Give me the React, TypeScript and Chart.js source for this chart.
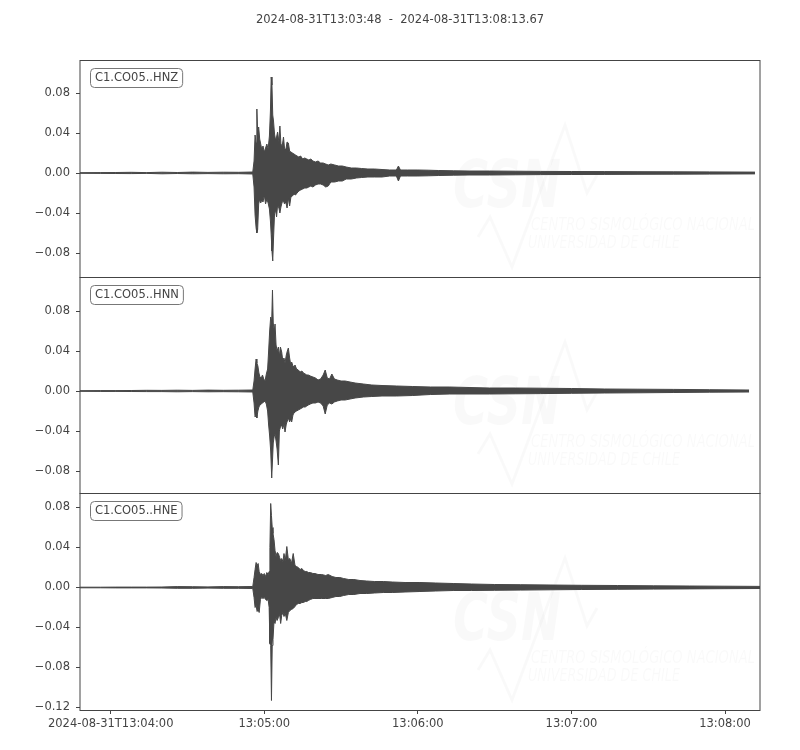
import { useEffect, useRef } from 'react';
import { Chart, registerables, type ChartConfiguration, type Plugin } from 'chart.js';

Chart.register(...registerables);

const TITLE = '2024-08-31T13:03:48  -  2024-08-31T13:08:13.67';
const DURATION = 265.67; // seconds after 13:03:48

const xTickSeconds = [12, 72, 132, 192, 252];
const xTickLabels = ['2024-08-31T13:04:00', '13:05:00', '13:06:00', '13:07:00', '13:08:00'];
const yTicks = [-0.08, -0.04, 0, 0.04, 0.08];
const yTicksHne = [-0.12, -0.08, -0.04, 0, 0.04, 0.08];
const channelLabels = ['C1.CO05..HNZ', 'C1.CO05..HNN', 'C1.CO05..HNE'];

// envelopes (max / min of the trace), seconds after 13:03:48
const hnzTime = [
  0, 8, 14, 20, 26, 32, 38, 44, 50, 56,
  62, 67.5, 68.0, 68.4, 68.8, 69.1, 69.4, 69.8, 70.2, 70.6,
  71.0, 71.5, 72.0, 72.5, 73.0, 73.5, 74.0, 74.4, 74.7, 75.0,
  75.3, 75.6, 76.0, 76.4, 76.8, 77.2, 77.7, 78.1, 78.5, 79.0,
  79.5, 79.9, 80.4, 80.9, 81.4, 81.9, 82.4, 83.0, 83.6, 84.2,
  84.8, 85.5, 86.2, 87.0, 87.8, 88.6, 89.4, 90.2, 91.0, 92.0,
  93.0, 94.0, 95.0, 96.0, 97.0, 98.0, 99.5, 101, 102.5, 104,
  106, 108, 110, 112.5, 115, 118, 121, 123.6, 124.4, 125.2,
  128, 132, 136, 140, 146, 152, 160, 170, 180, 192,
  205, 218, 232, 246, 263.7,
];
const hnzHigh = [
  0.0003, 0.0004, 0.0005, 0.0007, 0.0004, 0.0008, 0.0005, 0.0009, 0.0006, 0.0008,
  0.0007, 0.0010, 0.012, 0.038, 0.030, 0.064, 0.041, 0.046, 0.034, 0.029,
  0.024, 0.027, 0.021, 0.025, 0.029, 0.024, 0.037, 0.062, 0.096, 0.088,
  0.058, 0.052, 0.039, 0.033, 0.036, 0.041, 0.031, 0.047, 0.029, 0.027,
  0.036, 0.025, 0.023, 0.031, 0.030, 0.022, 0.021, 0.020, 0.019, 0.018,
  0.017, 0.016, 0.017, 0.014, 0.015, 0.014, 0.013, 0.014, 0.012, 0.011,
  0.012, 0.010, 0.010, 0.009, 0.008, 0.009, 0.008, 0.007, 0.007, 0.006,
  0.005, 0.005, 0.0045, 0.004, 0.004, 0.0035, 0.003, 0.003, 0.007, 0.003,
  0.003, 0.003, 0.0028, 0.0025, 0.0022, 0.002, 0.002, 0.0018, 0.0016, 0.0015,
  0.0014, 0.0013, 0.0012, 0.0011, 0.0009,
];
const hnzLow = [
  -0.0003, -0.0004, -0.0005, -0.0006, -0.0004, -0.0008, -0.0005, -0.0008, -0.0006, -0.0008,
  -0.0007, -0.0010, -0.014, -0.042, -0.055, -0.060, -0.057, -0.031, -0.026, -0.030,
  -0.027, -0.029, -0.022, -0.031, -0.026, -0.030, -0.036, -0.048, -0.062, -0.078,
  -0.088, -0.066, -0.041, -0.037, -0.044, -0.032, -0.035, -0.040, -0.034, -0.029,
  -0.028, -0.031, -0.029, -0.035, -0.025, -0.033, -0.024, -0.023, -0.021, -0.022,
  -0.020, -0.018, -0.017, -0.016, -0.015, -0.015, -0.014, -0.013, -0.014, -0.012,
  -0.011, -0.011, -0.012, -0.014, -0.013, -0.009, -0.009, -0.008, -0.008, -0.006,
  -0.006, -0.005, -0.0045, -0.004, -0.004, -0.004, -0.003, -0.003, -0.008, -0.003,
  -0.003, -0.003, -0.0028, -0.0025, -0.0022, -0.002, -0.002, -0.0018, -0.0016, -0.0015,
  -0.0014, -0.0013, -0.0012, -0.0011, -0.0009,
];

const hnnTime = [
  0, 8, 14, 20, 26, 32, 38, 44, 50, 56,
  62, 67.5, 68.0, 68.4, 68.8, 69.1, 69.5, 69.9, 70.3, 70.8,
  71.3, 71.8, 72.3, 72.8, 73.3, 73.7, 74.1, 74.5, 74.9, 75.2,
  75.5, 75.9, 76.2, 76.6, 77.0, 77.5, 77.9, 78.3, 78.8, 79.2,
  79.7, 80.1, 80.6, 81.0, 81.4, 81.9, 82.3, 82.7, 83.2, 83.6,
  84.0, 84.6, 85.3, 86.0, 86.7, 87.3, 88.0, 88.6, 89.2, 90.0,
  91.0, 92.0, 93.0, 94.0, 95.0, 95.8, 96.6, 97.5, 98.4, 99.4,
  100.5, 102, 103.6, 105.5, 107.5, 110.7, 114, 118, 123.7, 130,
  137, 144.5, 152, 160, 170, 180, 192, 205, 218, 232,
  246, 261.4,
];
const hnnHigh = [
  0.0003, 0.0004, 0.0004, 0.0005, 0.0007, 0.0006, 0.0008, 0.0006, 0.0009, 0.0007,
  0.0008, 0.0010, 0.010, 0.022, 0.032, 0.028, 0.025, 0.018, 0.014, 0.013,
  0.016, 0.012, 0.010, 0.017, 0.022, 0.040, 0.060, 0.074, 0.070, 0.101,
  0.068, 0.060, 0.067, 0.046, 0.040, 0.044, 0.035, 0.044, 0.039, 0.031,
  0.033, 0.028, 0.036, 0.040, 0.043, 0.033, 0.027, 0.029, 0.025, 0.024,
  0.026, 0.022, 0.021, 0.019, 0.020, 0.018, 0.017, 0.016, 0.016, 0.015,
  0.014, 0.013, 0.011, 0.012, 0.016, 0.021, 0.013, 0.012, 0.017, 0.012,
  0.011, 0.010, 0.010, 0.009, 0.008, 0.007, 0.006, 0.0055, 0.005, 0.0045,
  0.004, 0.004, 0.0035, 0.003, 0.003, 0.0028, 0.0025, 0.002, 0.0018, 0.0016,
  0.0013, 0.0010,
];
const hnnLow = [
  -0.0003, -0.0004, -0.0004, -0.0005, -0.0006, -0.0006, -0.0008, -0.0006, -0.0008, -0.0007,
  -0.0008, -0.0010, -0.012, -0.026, -0.024, -0.027, -0.020, -0.016, -0.014, -0.013,
  -0.012, -0.011, -0.010, -0.013, -0.020, -0.034, -0.045, -0.060, -0.087, -0.070,
  -0.052, -0.045, -0.043, -0.050, -0.058, -0.074, -0.040, -0.036, -0.034, -0.038,
  -0.033, -0.041, -0.033, -0.030, -0.027, -0.031, -0.028, -0.031, -0.024, -0.022,
  -0.021, -0.020, -0.019, -0.018, -0.017, -0.016, -0.016, -0.015, -0.014, -0.013,
  -0.012, -0.012, -0.011, -0.012, -0.015, -0.023, -0.014, -0.012, -0.013, -0.011,
  -0.010, -0.009, -0.009, -0.008, -0.007, -0.006, -0.0055, -0.005, -0.005, -0.0045,
  -0.0035, -0.003, -0.003, -0.003, -0.0028, -0.0026, -0.0023, -0.002, -0.0018, -0.0015,
  -0.0012, -0.0010,
];

const hneTime = [
  0, 8, 14, 20, 26, 32, 38, 44, 50, 56,
  62, 67.5, 68.0, 68.4, 68.8, 69.2, 69.6, 70.0, 70.5, 71.0,
  71.5, 72.0, 72.5, 73.0, 73.5, 73.9, 74.2, 74.5, 74.8, 75.1,
  75.4, 75.8, 76.2, 76.6, 77.0, 77.5, 78.0, 78.4, 78.8, 79.3,
  79.7, 80.2, 80.8, 81.4, 82.0, 82.6, 83.3, 84.0, 84.6, 85.3,
  86.0, 86.7, 87.3, 88.0, 88.6, 89.2, 90.0, 91.0, 91.8, 93.0,
  94.4, 96.0, 97.0, 98.5, 100, 101.5, 103, 105, 107, 109.4,
  112, 115, 118.5, 122, 127, 132.8, 139, 145.8, 153, 162,
  172, 184, 196, 210, 224, 238, 252, 265.67,
];
const hneHigh = [
  0.0003, 0.0003, 0.0004, 0.0004, 0.0004, 0.0005, 0.0009, 0.0008, 0.0006, 0.0009,
  0.0008, 0.0010, 0.010, 0.018, 0.025, 0.022, 0.024, 0.016, 0.013, 0.014,
  0.012, 0.014, 0.011, 0.015, 0.013, 0.016, 0.040, 0.084, 0.072, 0.060,
  0.054, 0.048, 0.037, 0.031, 0.035, 0.034, 0.030, 0.027, 0.029, 0.026,
  0.034, 0.027, 0.041, 0.028, 0.029, 0.024, 0.034, 0.022, 0.021, 0.020,
  0.018, 0.019, 0.017, 0.016, 0.016, 0.015, 0.015, 0.014, 0.014, 0.013,
  0.013, 0.012, 0.013, 0.011, 0.010, 0.010, 0.009, 0.008, 0.008, 0.007,
  0.0065, 0.006, 0.006, 0.0055, 0.005, 0.005, 0.0045, 0.004, 0.0035, 0.003,
  0.0028, 0.0025, 0.0022, 0.002, 0.0017, 0.0015, 0.0013, 0.0011,
];
const hneLow = [
  -0.0003, -0.0003, -0.0004, -0.0004, -0.0004, -0.0005, -0.0008, -0.0008, -0.0006, -0.0008,
  -0.0008, -0.0010, -0.010, -0.020, -0.018, -0.024, -0.022, -0.025, -0.012, -0.010,
  -0.011, -0.010, -0.012, -0.013, -0.012, -0.020, -0.056, -0.058, -0.113, -0.058,
  -0.052, -0.034, -0.036, -0.030, -0.033, -0.030, -0.027, -0.036, -0.028, -0.025,
  -0.029, -0.026, -0.033, -0.025, -0.023, -0.022, -0.021, -0.019, -0.017, -0.016,
  -0.016, -0.015, -0.015, -0.014, -0.014, -0.013, -0.012, -0.011, -0.011, -0.011,
  -0.011, -0.011, -0.011, -0.010, -0.009, -0.009, -0.008, -0.007, -0.007, -0.006,
  -0.006, -0.0055, -0.005, -0.005, -0.0045, -0.004, -0.0035, -0.003, -0.003, -0.0028,
  -0.0026, -0.0023, -0.002, -0.0018, -0.0016, -0.0014, -0.0012, -0.0010,
];

const INK = '#444444';
const TRACE = '#474747';
const FONT = "'DejaVu Sans', sans-serif";
const WATERMARK = 'rgba(0, 0, 0, 0.025)';

// faint CSN logo behind every trace
const watermark: Plugin = {
  id: 'watermark',
  beforeDatasetsDraw(chart) {
    const { ctx, chartArea: a } = chart;
    ctx.save();
    ctx.fillStyle = WATERMARK;
    ctx.strokeStyle = WATERMARK;
    ctx.textBaseline = 'alphabetic';
    ctx.font = `italic bold 66px ${FONT}`;
    ctx.fillText('CSN', a.left + 373, a.top + 147, 108);
    ctx.font = `italic 17px ${FONT}`;
    ctx.fillText('CENTRO SISMOLÓGICO NACIONAL', a.left + 451, a.top + 170, 224);
    ctx.fillText('UNIVERSIDAD DE CHILE', a.left + 448, a.top + 188, 152);
    ctx.lineWidth = 3;
    ctx.beginPath();
    const pts = [[398, 177], [410, 157], [432, 207], [485, 65], [507, 133], [517, 115]];
    pts.forEach(([x, y], i) => {
      if (i === 0) ctx.moveTo(a.left + x, a.top + y);
      else ctx.lineTo(a.left + x, a.top + y);
    });
    ctx.stroke();
    ctx.restore();
  },
};

// axes box and the channel label in the upper left corner
const frame: Plugin = {
  id: 'frame',
  afterDatasetsDraw(chart, _args, opts: any) {
    const { ctx, chartArea: a } = chart;
    ctx.save();
    ctx.strokeStyle = INK;
    ctx.lineWidth = 1;
    ctx.strokeRect(a.left, a.top + 0.5, a.right - a.left, a.bottom - a.top);
    ctx.font = `11.5px ${FONT}`;
    const w = ctx.measureText(opts.label).width;
    ctx.beginPath();
    ctx.roundRect(a.left + 10.5, a.top + 8.5, w + 9, 19, 4);
    ctx.fillStyle = '#ffffff';
    ctx.fill();
    ctx.strokeStyle = '#777777';
    ctx.stroke();
    ctx.fillStyle = INK;
    ctx.textBaseline = 'middle';
    ctx.fillText(opts.label, a.left + 15, a.top + 18.5);
    if (opts.title) {
      ctx.textAlign = 'center';
      ctx.fillText(opts.title, chart.width / 2, 20);
    }
    ctx.restore();
  },
};

interface PanelProps {
  label: string;
  time: number[];
  high: number[];
  low: number[];
  ticks: number[];
  yMin: number;
  yMax: number;
  top: number;
  bottom: number;
  showTime?: boolean;
  title?: string;
}

function TracePanel({ label, time, high, low, ticks, yMin, yMax, top, bottom, showTime, title }: PanelProps) {
  const canvasRef = useRef<HTMLCanvasElement>(null);

  useEffect(() => {
    if (!canvasRef.current) return;

    const config: ChartConfiguration<'line'> = {
      type: 'line',
      data: {
        datasets: [
          {
            data: time.map((t, i) => ({ x: t, y: high[i] })),
            borderColor: TRACE,
            backgroundColor: TRACE,
            borderWidth: 1,
            fill: '+1',
            pointRadius: 0,
            tension: 0,
          },
          {
            data: time.map((t, i) => ({ x: t, y: low[i] })),
            borderColor: TRACE,
            borderWidth: 1,
            fill: false,
            pointRadius: 0,
            tension: 0,
          },
        ],
      },
      options: {
        responsive: false,
        animation: false,
        events: [],
        layout: { padding: { left: 0, right: 40, top, bottom } },
        plugins: {
          legend: { display: false },
          tooltip: { enabled: false },
          frame: { label, title },
        } as any,
        scales: {
          x: {
            type: 'linear',
            min: 0,
            max: DURATION,
            display: !!showTime,
            afterBuildTicks: (s) => { s.ticks = xTickSeconds.map((v) => ({ value: v })); },
            afterFit: (s) => { s.height = showTime ? 40 : 0; },
            grid: { drawOnChartArea: false, tickLength: 4, color: INK, tickWidth: 1 },
            border: { display: false },
            ticks: {
              color: INK,
              padding: 3,
              maxRotation: 0,
              autoSkip: false,
              font: { family: FONT, size: 11.5 },
              callback: (v) => xTickLabels[xTickSeconds.indexOf(Number(v))] ?? '',
            },
          },
          y: {
            type: 'linear',
            min: yMin,
            max: yMax,
            afterBuildTicks: (s) => { s.ticks = ticks.map((v) => ({ value: v })); },
            afterFit: (s) => { s.width = 80; },
            grid: { drawOnChartArea: false, tickLength: 4, color: INK, tickWidth: 1 },
            border: { display: false },
            ticks: {
              color: INK,
              padding: 6,
              font: { family: FONT, size: 11.5 },
              callback: (v) => Number(v).toFixed(2).replace('-', '\u2212'),
            },
          },
        },
      },
      plugins: [watermark, frame],
    };

    const chart = new Chart(canvasRef.current, config);
    return () => chart.destroy();
  }, []);

  return (
    <canvas
      ref={canvasRef}
      width={800}
      height={750}
      style={{ position: 'absolute', left: 0, top: 0, width: 800, height: 750 }}
    />
  );
}

export default function App() {
  return (
    <div style={{ position: 'absolute', left: 0, top: 0, width: 800, height: 750, background: '#fff' }}>
      <TracePanel label={channelLabels[0]} time={hnzTime} high={hnzHigh} low={hnzLow}
        ticks={yTicks} yMin={-0.104} yMax={0.113} top={60} bottom={473} title={TITLE} />
      <TracePanel label={channelLabels[1]} time={hnnTime} high={hnnHigh} low={hnnLow}
        ticks={yTicks} yMin={-0.102} yMax={0.114} top={277} bottom={257} />
      <TracePanel label={channelLabels[2]} time={hneTime} high={hneHigh} low={hneLow}
        ticks={yTicksHne} yMin={-0.1225} yMax={0.0945} top={493} bottom={0} showTime />
    </div>
  );
}
